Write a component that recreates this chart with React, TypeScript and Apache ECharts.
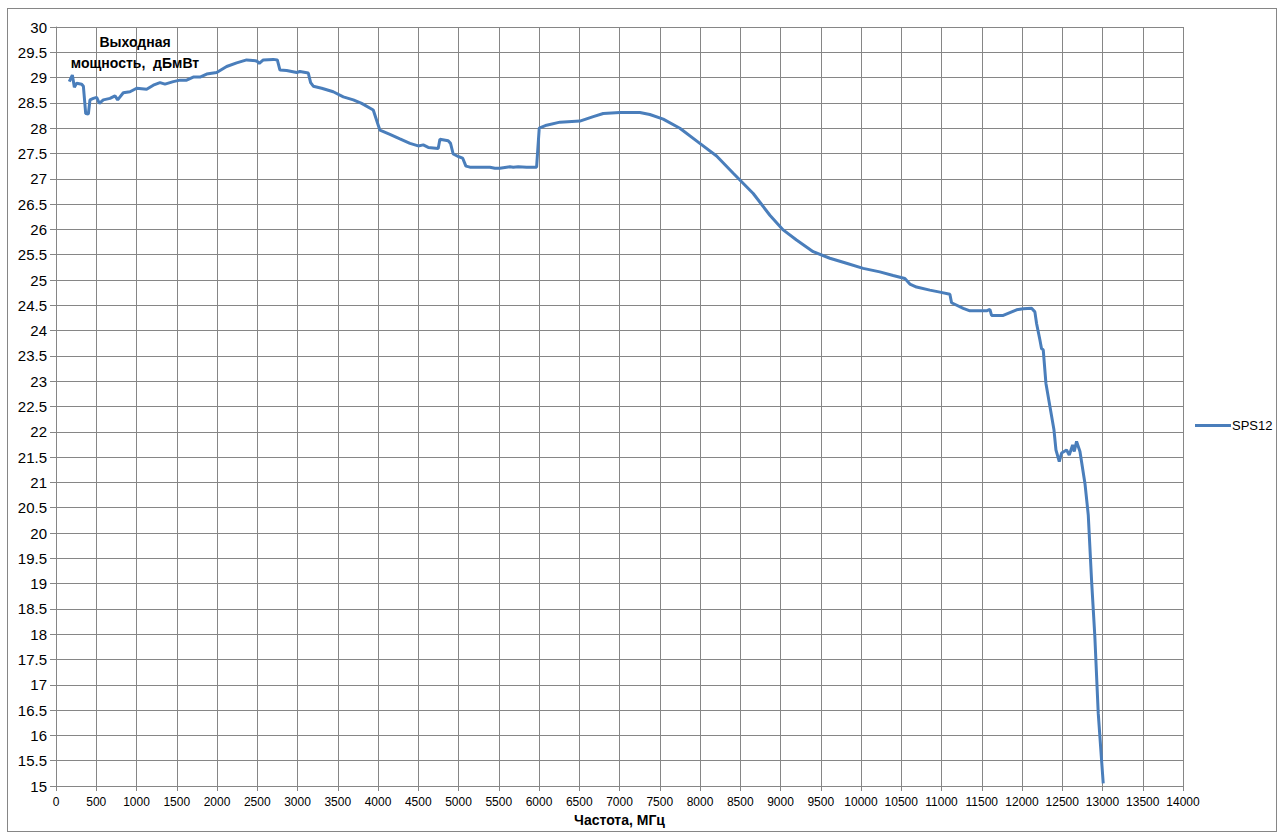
import React, { useEffect, useRef } from "react";
import * as echarts from "echarts";

const freqMHz = [165,203,228,256,319,340,369,402,422,464,505,538,588,671,733,766,836,919,1002,1126,1209,1292,1354,1457,1540,1623,1705,1789,1872,1996,2120,2244,2368,2493,2525,2575,2699,2749,2782,2865,2990,3030,3134,3163,3196,3300,3444,3569,3693,3797,3941,4003,4024,4148,4272,4397,4500,4562,4624,4748,4769,4872,4901,4934,4996,5051,5092,5142,5266,5390,5452,5514,5639,5680,5742,5846,5970,6003,6094,6260,6508,6674,6798,7005,7253,7377,7543,7750,7998,8206,8413,8661,8868,9033,9199,9406,9613,9820,10027,10234,10399,10545,10607,10690,10855,10980,11104,11125,11270,11353,11560,11601,11622,11767,11933,12015,12119,12160,12181,12222,12243,12264,12297,12347,12397,12422,12463,12492,12554,12587,12629,12649,12678,12720,12782,12823,12864,12905,12947,13009];

const powerDbm = [28.92,29.05,28.81,28.89,28.87,28.83,28.29,28.28,28.56,28.59,28.61,28.49,28.56,28.59,28.64,28.56,28.70,28.72,28.79,28.77,28.85,28.90,28.87,28.92,28.95,28.95,29.01,29.01,29.07,29.10,29.22,29.29,29.35,29.33,29.28,29.35,29.36,29.35,29.15,29.14,29.10,29.12,29.09,28.90,28.83,28.79,28.72,28.62,28.56,28.49,28.36,28.06,27.96,27.88,27.79,27.70,27.65,27.67,27.62,27.60,27.78,27.75,27.70,27.49,27.44,27.41,27.25,27.23,27.23,27.23,27.21,27.21,27.24,27.23,27.24,27.23,27.23,28.00,28.06,28.12,28.14,28.23,28.29,28.31,28.31,28.27,28.18,28.00,27.70,27.45,27.11,26.71,26.28,25.99,25.79,25.56,25.43,25.33,25.23,25.16,25.09,25.03,24.92,24.86,24.80,24.76,24.72,24.55,24.44,24.39,24.39,24.42,24.30,24.30,24.41,24.43,24.44,24.37,24.14,23.82,23.64,23.62,22.96,22.50,22.04,21.64,21.41,21.58,21.64,21.54,21.74,21.61,21.81,21.61,20.98,20.36,19.07,17.95,16.44,15.05];

const seriesName = "SPS12";
const xTitle = "Частота, МГц";
const yTitle = "Выходная\nмощность,  дБмВт";

export default function App() {
  const ref = useRef<HTMLDivElement>(null);
  useEffect(() => {
    if (!ref.current) return;
    const chart = echarts.init(ref.current, undefined, { renderer: "svg" });
    const gridColor = "#868686";
    const font = "'Liberation Sans', Arial, sans-serif";
    chart.setOption({
      animation: false,
      backgroundColor: "transparent",
      grid: { left: 56, top: 27, right: 100, bottom: 54, containLabel: false },
      xAxis: {
        type: "value",
        min: 0,
        max: 14000,
        interval: 500,
        name: xTitle,
        nameLocation: "middle",
        nameGap: 26,
        nameTextStyle: { fontFamily: font, fontSize: 14, fontWeight: "bold", color: "#000" },
        axisLine: { show: true, lineStyle: { color: gridColor, width: 1 } },
        axisTick: { show: true, length: 5, lineStyle: { color: gridColor } },
        axisLabel: {
          fontFamily: font,
          fontSize: 12,
          color: "#000",
          margin: 10,
          formatter: (v: number) => String(v),
        },
        splitLine: { show: true, lineStyle: { color: gridColor, width: 1 } },
      },
      yAxis: {
        type: "value",
        min: 15,
        max: 30,
        interval: 0.5,
        axisLine: { show: true, lineStyle: { color: gridColor, width: 1 } },
        axisTick: { show: true, length: 6, lineStyle: { color: gridColor } },
        axisLabel: { fontFamily: font, fontSize: 15, color: "#000", margin: 9 },
        splitLine: { show: true, lineStyle: { color: gridColor, width: 1 } },
      },
      legend: {
        show: true,
        orient: "vertical",
        left: 1190,
        top: 414,
        icon: "rect",
        itemWidth: 36,
        itemHeight: 3,
        itemGap: 5,
        textStyle: { fontFamily: font, fontSize: 13, color: "#000", padding: [0, 0, 0, -4] },
        data: [seriesName],
      },
      graphic: [
        {
          type: "text",
          x: 135,
          y: 31,
          style: {
            text: yTitle,
            fontFamily: font,
            fontSize: 14,
            fontWeight: "bold",
            fill: "#000",
            align: "center",
            lineHeight: 21,
          },
          z: 10,
        },
      ],
      series: [
        {
          name: seriesName,
          type: "line",
          data: freqMHz.map((f, i) => [f, powerDbm[i]]),
          showSymbol: false,
          symbol: "none",
          lineStyle: { color: "#4A7EBB", width: 3 },
          itemStyle: { color: "#4A7EBB" },
        },
      ],
    });
    return () => chart.dispose();
  }, []);
  return (
    <div style={{ position: "fixed", left: 0, top: 0, width: 1283, height: 840, background: "#fff" }}>
      <div
        style={{
          position: "absolute",
          left: 7,
          top: 8,
          width: 1270,
          height: 824,
          border: "1px solid #868686",
          boxSizing: "border-box",
        }}
      />
      <div ref={ref} style={{ position: "absolute", left: 0, top: 0, width: 1283, height: 840 }} />
    </div>
  );
}
